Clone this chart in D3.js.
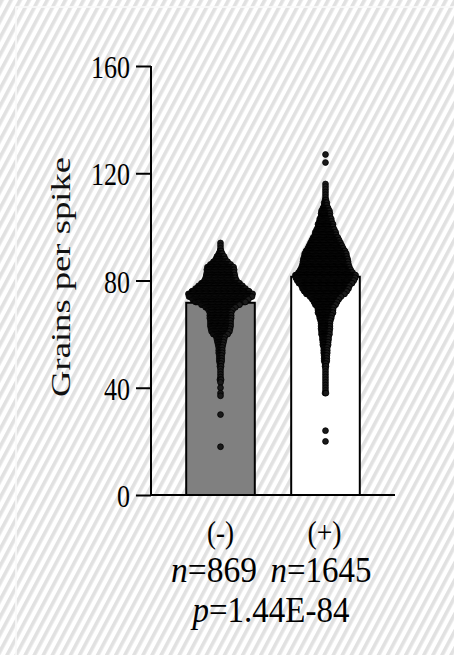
<!DOCTYPE html>
<html>
<head>
<meta charset="utf-8">
<script src="https://cdn.jsdelivr.net/npm/d3@7"></script>
<style>
  html, body { margin: 0; padding: 0; background: #fff; }
  svg { display: block; }
</style>
</head>
<body>
<svg id="chart" width="454" height="655"></svg>
<script>
// ---- data ----
const groups = ["(-)", "(+)"];
const groupN = [869, 1645];
const barMeans = [71.7, 81.4];
const pValue = "1.44E-84";
const yTicks = [0, 40, 80, 120, 160];
const yLabel = "Grains per spike";

// grains per spike -> number of spikes with that count, (-) group
const minusValues = [94, 93, 92, 91, 90, 89, 88, 87, 86, 85, 84, 83, 82, 81, 80, 79, 78, 77, 76, 75,
  74, 73, 72, 71, 70, 69, 68, 67, 66, 65, 64, 63, 62, 61, 60, 59, 58, 57, 56, 55,
  54, 53, 52, 51, 50, 49, 48, 47, 46, 45, 44, 43, 42, 40, 38, 37, 30, 18];
const minusCounts = [1, 1, 1, 2, 4, 7, 9, 13, 18, 23, 24, 24, 25, 26, 28, 33, 38, 43, 49, 55,
  54, 48, 43, 33, 26, 21, 19, 19, 19, 18, 18, 18, 17, 16, 13, 8, 7, 6, 5, 4,
  4, 4, 3, 3, 3, 2, 2, 1, 1, 1, 1, 2, 1, 1, 1, 1, 1, 1];

// grains per spike -> number of spikes with that count, (+) group
const plusValues = [127, 124, 116, 115, 114, 113, 112, 111, 110, 109, 108, 107, 106, 105, 104, 103,
  102, 101, 100, 99, 98, 97, 96, 95, 94, 93, 92, 91, 90, 89, 88, 87, 86, 85, 84, 83,
  82, 81, 80, 79, 78, 77, 76, 75, 74, 73, 72, 71, 70, 69, 68, 67, 66, 65, 64, 63,
  62, 61, 60, 59, 58, 57, 56, 55, 54, 53, 52, 51, 50, 49, 48, 47, 46, 45, 44, 43,
  42, 41, 40, 39, 38, 24, 20];
const plusCounts = [1, 1, 1, 1, 1, 1, 1, 1, 2, 4, 4, 7, 10, 11, 11, 14,
  15, 18, 18, 21, 24, 25, 29, 32, 35, 38, 41, 45, 48, 49, 51, 52, 53, 55, 58, 62,
  69, 68, 65, 61, 55, 53, 49, 44, 36, 31, 27, 24, 19, 18, 18, 15, 14, 12, 11, 11,
  11, 10, 10, 8, 8, 7, 7, 5, 5, 5, 4, 4, 4, 2, 2, 1, 1, 1, 1, 1,
  1, 1, 1, 1, 2, 1, 1];

// ---- layout ----
const W = 454, H = 655;
const plot = { left: 151, right: 395, top: 66, bottom: 495 };
const barWidth = 68.6;
const dotR = 2.9;
const swarmWidth = [70, 66];
const serif = "'Liberation Serif', 'Times New Roman', serif";

const svg = d3.select("#chart");

// background: white with fine light-grey diagonal hatching
const defs = svg.append("defs");
const pat = defs.append("pattern")
  .attr("id", "hatch")
  .attr("patternUnits", "userSpaceOnUse")
  .attr("width", 8).attr("height", 8)
  .attr("patternTransform", "rotate(28)");
pat.append("rect").attr("width", 8).attr("height", 8).attr("fill", "#ffffff");
pat.append("rect").attr("width", 3.6).attr("height", 8).attr("fill", "#e1e1e1");
svg.append("rect").attr("width", W).attr("height", H).attr("fill", "url(#hatch)");
svg.append("rect")
  .attr("x", 16).attr("y", 7).attr("width", W + 20).attr("height", H + 20)
  .attr("fill", "none").attr("stroke", "#fbfbfb").attr("stroke-width", 1.6);

// scales
const y = d3.scaleLinear().domain([0, 160]).range([plot.bottom, plot.top]);
const x = d3.scalePoint().domain(groups).range([plot.left, plot.right]).padding(0.662);

// bars
const barFills = ["#808080", "#ffffff"];
svg.append("g").selectAll("rect")
  .data(groups)
  .join("rect")
  .attr("x", d => x(d) - barWidth / 2)
  .attr("y", (d, i) => y(barMeans[i]))
  .attr("width", barWidth)
  .attr("height", (d, i) => y(0) - y(barMeans[i]))
  .attr("fill", (d, i) => barFills[i])
  .attr("stroke", "#000")
  .attr("stroke-width", 2);

// swarm of individual spikes: each value row spread symmetrically around the group centre
const tables = [
  { values: minusValues, counts: minusCounts },
  { values: plusValues, counts: plusCounts }
];
const dots = [];
tables.forEach((t, gi) => {
  const maxCount = d3.max(t.counts);
  const step = (swarmWidth[gi] - 2 * dotR) / (maxCount - 1);
  t.values.forEach((v, k) => {
    const c = t.counts[k];
    for (let i = 0; i < c; i++) {
      dots.push({ g: groups[gi], v: v, off: (i - (c - 1) / 2) * step });
    }
  });
});
svg.append("g").selectAll("circle")
  .data(dots)
  .join("circle")
  .attr("cx", d => x(d.g) + d.off)
  .attr("cy", d => y(d.v))
  .attr("r", dotR)
  .attr("fill", "#1a1a1a")
  .attr("stroke", "#000")
  .attr("stroke-width", 0.8);

// y axis
const yAxis = svg.append("g")
  .attr("transform", `translate(${plot.left},0)`)
  .call(d3.axisLeft(y).tickValues(yTicks).tickSize(15).tickFormat(""));
yAxis.select(".domain").attr("d", `M0,${y(160)}V${y(0)}`).attr("stroke-width", 2);
yAxis.selectAll(".tick line").attr("stroke-width", 2);

svg.append("g").selectAll("text")
  .data(yTicks)
  .join("text")
  .attr("x", 130)
  .attr("y", d => y(d) + 12)
  .attr("text-anchor", "end")
  .attr("font-family", serif)
  .attr("font-size", 32)
  .attr("textLength", d => String(d).length * 13)
  .attr("lengthAdjust", "spacingAndGlyphs")
  .attr("fill", "#000")
  .text(d => d);

// x axis baseline
svg.append("line")
  .attr("x1", plot.left - 1).attr("x2", plot.right)
  .attr("y1", y(0)).attr("y2", y(0))
  .attr("stroke", "#000").attr("stroke-width", 2);

// y axis title
svg.append("text")
  .attr("transform", `translate(70,277) rotate(-90)`)
  .attr("text-anchor", "middle")
  .attr("font-family", serif)
  .attr("font-size", 27)
  .attr("textLength", 240)
  .attr("lengthAdjust", "spacingAndGlyphs")
  .attr("fill", "#111")
  .text(yLabel);

// group labels
const groupLabelLen = [27, 34];
svg.append("g").selectAll("text")
  .data(groups)
  .join("text")
  .attr("x", d => x(d) + (d === "(+)" ? -1 : 0))
  .attr("y", 543)
  .attr("text-anchor", "middle")
  .attr("font-family", serif)
  .attr("font-size", 31)
  .attr("textLength", (d, i) => groupLabelLen[i])
  .attr("lengthAdjust", "spacingAndGlyphs")
  .attr("fill", "#000")
  .text(d => d);

// sample sizes
const nCenters = [x(groups[0]) - 6.5, x(groups[1]) - 4.5];
const nLen = [86, 101];
groups.forEach((g, i) => {
  const t = svg.append("text")
    .attr("x", nCenters[i])
    .attr("y", 582)
    .attr("text-anchor", "middle")
    .attr("font-family", serif)
    .attr("font-size", 35)
    .attr("textLength", nLen[i])
    .attr("lengthAdjust", "spacingAndGlyphs")
    .attr("fill", "#000");
  t.append("tspan").attr("font-style", "italic").text("n");
  t.append("tspan").text("=" + groupN[i]);
});

// significance
const pt = svg.append("text")
  .attr("x", (x(groups[0]) + x(groups[1])) / 2 - 2)
  .attr("y", 622)
  .attr("text-anchor", "middle")
  .attr("font-family", serif)
  .attr("font-size", 35)
  .attr("textLength", 157)
  .attr("lengthAdjust", "spacingAndGlyphs")
  .attr("fill", "#000");
pt.append("tspan").attr("font-style", "italic").text("p");
pt.append("tspan").text("=" + pValue);
</script>
</body>
</html>
